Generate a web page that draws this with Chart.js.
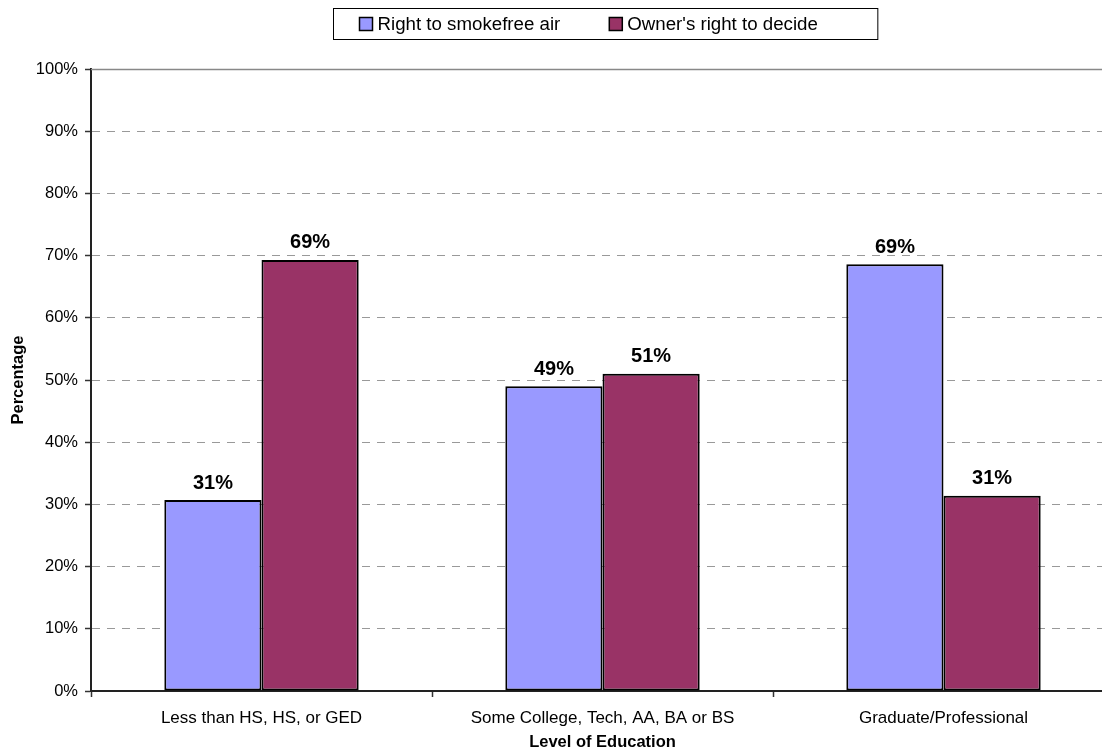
<!DOCTYPE html>
<html>
<head>
<meta charset="utf-8">
<script src="https://cdn.jsdelivr.net/npm/chart.js@4/dist/chart.umd.min.js"></script>
<style>
  html, body { margin: 0; padding: 0; overflow: hidden; background: #fff; }
  #wrap { width: 1212px; height: 751px; }
</style>
</head>
<body>
<div id="wrap"><canvas id="Chart_education"></canvas></div>
<script>
// categories and values
var categories = ["Less than HS, HS, or GED", "Some College, Tech, AA, BA or BS", "Graduate/Professional"];
var smokefree = [30.7, 49.0, 68.6];
var ownerDecides = [69.3, 51.0, 31.4];
var valueLabels_1 = ["31%", "49%", "69%"];
var valueLabels_2 = ["69%", "51%", "31%"];

var FONT = "'Liberation Sans', Arial, sans-serif";

// legend with a border box, Excel style
const boxLegend = {
  id: "boxLegend",
  afterDraw: function(chart) {
    var ctx = chart.ctx;
    var area = chart.chartArea;
    ctx.save();
    ctx.font = "18.7px " + FONT;
    var sq = 13, gapText = 5, gapItem = 49, padL = 26, padR = 60;
    var items = chart.data.datasets.map(function(ds) {
      return { label: ds.label, color: ds.backgroundColor, w: ctx.measureText(ds.label).width };
    });
    var inner = 0;
    items.forEach(function(it, i) { inner += sq + gapText + it.w + (i > 0 ? gapItem : 0); });
    var boxW = padL + inner + padR;
    var boxX = Math.round((area.left + area.right) / 2 + 3 - boxW / 2) + 0.5;
    var boxY = 8.5, boxH = 31;
    ctx.strokeStyle = "#000";
    ctx.lineWidth = 1;
    ctx.strokeRect(boxX, boxY, boxW, boxH);
    var x = boxX + padL;
    var cy = boxY + boxH / 2;
    items.forEach(function(it) {
      ctx.fillStyle = it.color;
      ctx.fillRect(x, cy - sq / 2, sq, sq);
      ctx.lineWidth = 1.5;
      ctx.strokeRect(x, cy - sq / 2, sq, sq);
      ctx.fillStyle = "#000";
      ctx.textBaseline = "middle";
      ctx.textAlign = "left";
      ctx.fillText(it.label, x + sq + gapText, cy + 1);
      x += sq + gapText + it.w + gapItem;
    });
    ctx.restore();
  }
};

// solid top line at 100% and value labels above bars
const barExtras = {
  id: "barExtras",
  afterDatasetsDraw: function(chart) {
    var ctx = chart.ctx;
    var y = chart.scales.y;
    var area = chart.chartArea;
    ctx.save();
    ctx.strokeStyle = "#888";
    ctx.lineWidth = 1.5;
    ctx.beginPath();
    var top = Math.round(y.getPixelForValue(100)) + 0.5;
    ctx.moveTo(area.left, top);
    ctx.lineTo(area.right, top);
    ctx.stroke();

    ctx.font = "bold 20px " + FONT;
    ctx.fillStyle = "#000";
    ctx.textAlign = "center";
    ctx.textBaseline = "bottom";
    var labelSets = [valueLabels_1, valueLabels_2];
    chart.data.datasets.forEach(function(ds, di) {
      chart.getDatasetMeta(di).data.forEach(function(bar, i) {
        ctx.fillText(labelSets[di][i], bar.x, bar.y - 7);
      });
    });
    ctx.restore();
  }
};

const ctx1 = document.getElementById("Chart_education").getContext("2d");
Chart_education = new Chart(ctx1, {
  type: "bar",
  data: {
    labels: categories,
    datasets: [
      {
        label: "Right to smokefree air",
        data: smokefree,
        backgroundColor: "#9999FF",
        borderColor: "#000",
        borderWidth: 2,
        borderSkipped: false,
        categoryPercentage: 0.57,
        barPercentage: 1.0
      },
      {
        label: "Owner's right to decide",
        data: ownerDecides,
        backgroundColor: "#993366",
        borderColor: "#000",
        borderWidth: 2,
        borderSkipped: false,
        categoryPercentage: 0.57,
        barPercentage: 1.0
      }
    ]
  },
  options: {
    responsive: true,
    maintainAspectRatio: false,
    animation: false,
    layout: { padding: { top: 69, right: 98, left: 0, bottom: 0 } },
    plugins: {
      legend: { display: false },
      tooltip: { enabled: false }
    },
    scales: {
      x: {
        afterFit: function(scale) { scale.height = 60; },
        grid: {
          display: true,
          drawOnChartArea: false,
          drawTicks: true,
          tickLength: 6,
          tickColor: "#333",
          tickWidth: 1.5
        },
        border: { display: true, color: "#222", width: 2 },
        ticks: {
          color: "#000",
          padding: 11,
          font: { family: FONT, size: 17 }
        },
        title: {
          display: true,
          text: "Level of Education",
          color: "#000",
          padding: { top: 0, bottom: 0 },
          font: { family: FONT, size: 16.5, weight: "bold", lineHeight: 1.0 }
        }
      },
      y: {
        min: 0,
        max: 100,
        afterFit: function(scale) { scale.width = 91; },
        grid: {
          color: "#999",
          lineWidth: 1,
          tickColor: "#333",
          tickLength: 6,
          tickWidth: 1.5
        },
        border: { display: true, color: "#222", width: 2, dash: [8, 7] },
        ticks: {
          stepSize: 10,
          color: "#000",
          padding: 7,
          font: { family: FONT, size: 16.5 },
          callback: function(v) { return v + "%"; }
        },
        title: {
          display: true,
          text: "Percentage",
          color: "#000",
          padding: { top: 8.5, bottom: 0 },
          font: { family: FONT, size: 16.5, weight: "bold" }
        }
      }
    }
  },
  plugins: [boxLegend, barExtras]
});
</script>
</body>
</html>
